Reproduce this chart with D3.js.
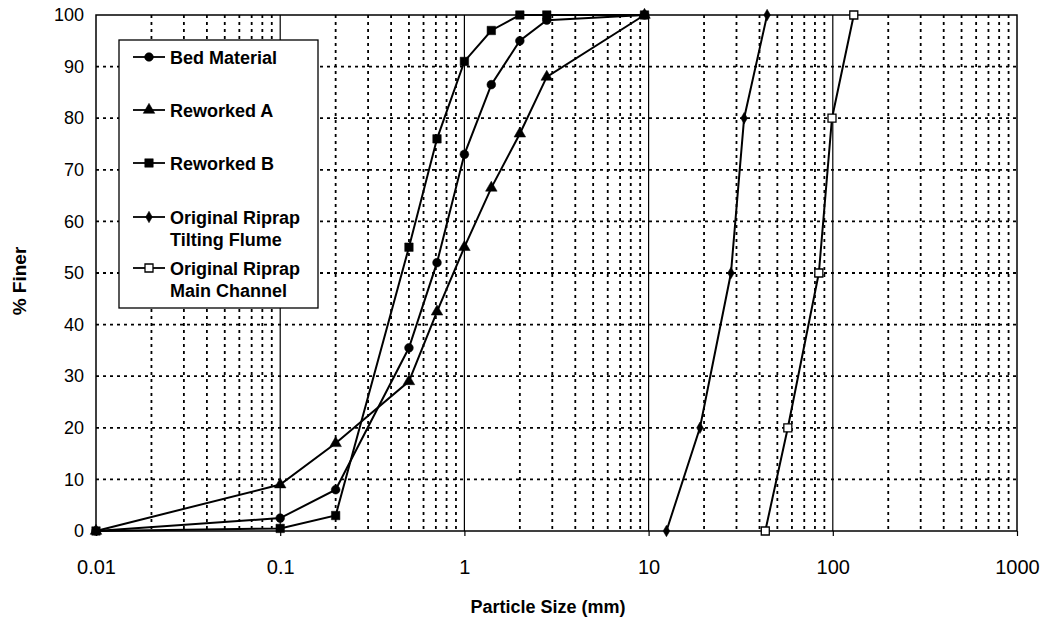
<!DOCTYPE html>
<html><head><meta charset="utf-8">
<script src="https://cdn.jsdelivr.net/npm/d3@7"></script>
<style>body{margin:0;background:#fff}svg{display:block}</style>
</head><body><svg id="c" width="1052" height="618"></svg>
<script>
// ---- data ----
const bedSize      = [0.01, 0.1, 0.2, 0.5, 0.71, 1.0, 1.4, 2.0, 2.8, 9.5];
const bedFiner     = [0, 2.5, 8, 35.5, 52, 73, 86.5, 95, 99, 100];
const reworkASize  = [0.01, 0.1, 0.2, 0.5, 0.71, 1.0, 1.4, 2.0, 2.8, 9.5];
const reworkAFiner = [0, 9, 17, 29, 42.5, 55, 66.5, 77, 88, 100];
const reworkBSize  = [0.01, 0.1, 0.2, 0.5, 0.71, 1.0, 1.4, 2.0, 2.8, 9.5];
const reworkBFiner = [0, 0.5, 3, 55, 76, 91, 97, 100, 100, 100];
const flumeSize    = [12.5, 19, 28, 33, 44];
const flumeFiner   = [0, 20, 50, 80, 100];
const channelSize  = [43, 57, 84, 99, 130];
const channelFiner = [0, 20, 50, 80, 100];
const seriesNames  = [["Bed Material"], ["Reworked A"], ["Reworked B"],
                      ["Original Riprap", "Tilting Flume"], ["Original Riprap", "Main Channel"]];
const xTickValues  = [0.01, 0.1, 1, 10, 100, 1000];
const xTickLabels  = ["0.01", "0.1", "1", "10", "100", "1000"];
const yTickValues  = [0, 10, 20, 30, 40, 50, 60, 70, 80, 90, 100];
const xTitle = "Particle Size (mm)";
const yTitle = "% Finer";

const series = [
  {names: seriesNames[0], size: bedSize, finer: bedFiner, sym: d3.symbolCircle, area: 60, open: false},
  {names: seriesNames[1], size: reworkASize, finer: reworkAFiner, sym: d3.symbolTriangle, area: 58, open: false},
  {names: seriesNames[2], size: reworkBSize, finer: reworkBFiner, sym: d3.symbolSquare, area: 72, open: false},
  {names: seriesNames[3], size: flumeSize, finer: flumeFiner, sym: d3.symbolDiamond, area: 38, open: false},
  {names: seriesNames[4], size: channelSize, finer: channelFiner, sym: d3.symbolSquare, area: 64, open: true}
];

const svg = d3.select("#c");
const FONT = "'Liberation Sans', Arial, sans-serif";
const x = d3.scaleLog().domain([0.01, 1000]).range([96, 1017]);
const y = d3.scaleLinear().domain([0, 100]).range([531, 15]);
const [x0, x1] = x.range(), [y0, y1] = y.range();

// grid
const g = svg.append("g");
const isDecade = v => Math.abs(Math.log10(v) - Math.round(Math.log10(v))) < 1e-9;
x.ticks().filter(v => v > 0.01 && v < 1000).forEach(v => {
  const dec = isDecade(v);
  g.append("line").attr("x1", x(v)).attr("x2", x(v)).attr("y1", y1).attr("y2", y0)
    .attr("stroke", "#000").attr("stroke-width", dec ? 1.2 : 1.8)
    .attr("stroke-dasharray", dec ? null : "3,4");
});
yTickValues.filter(v => v > 0 && v < 100).forEach(v => {
  g.append("line").attr("x1", x0).attr("x2", x1).attr("y1", y(v)).attr("y2", y(v))
    .attr("stroke", "#000").attr("stroke-width", 1.8).attr("stroke-dasharray", "3,4");
});
svg.append("rect").attr("x", x0).attr("y", y1).attr("width", x1 - x0).attr("height", y0 - y1)
  .attr("fill", "none").attr("stroke", "#000").attr("stroke-width", 1.5);

// axes
const xa = svg.append("g").attr("transform", `translate(0,${y0})`)
  .call(d3.axisBottom(x).tickValues(xTickValues).tickFormat((d, i) => xTickLabels[i]).tickSize(5).tickPadding(24));
xa.select(".domain").remove();
xa.selectAll("text").attr("font-family", FONT).attr("font-size", 20).attr("fill", "#000");
xa.selectAll("line").attr("stroke", "#000").attr("stroke-width", 1.2);

const ya = svg.append("g").attr("transform", `translate(${x0},0)`)
  .call(d3.axisLeft(y).tickValues(yTickValues).tickSize(0).tickPadding(12));
ya.select(".domain").remove();
ya.selectAll("text").attr("font-family", FONT).attr("font-size", 18).attr("fill", "#000");

svg.append("text").attr("x", 548).attr("y", 613).attr("text-anchor", "middle")
  .attr("font-family", FONT).attr("font-weight", "bold").attr("font-size", 18).text(xTitle);
svg.append("text").attr("transform", "translate(26,281) rotate(-90)").attr("text-anchor", "middle")
  .attr("font-family", FONT).attr("font-weight", "bold").attr("font-size", 19).text(yTitle);

// series
const line = d3.line().x(d => x(d[0])).y(d => y(d[1]));
function marker(sel, s) {
  sel.attr("d", d3.symbol().type(s.sym).size(s.area)())
    .attr("fill", s.open ? "#fff" : "#000").attr("stroke", "#000").attr("stroke-width", s.open ? 1.3 : 0.5);
}
series.forEach(s => {
  const pts = s.size.map((v, i) => [v, s.finer[i]]);
  svg.append("path").datum(pts).attr("d", line).attr("fill", "none")
    .attr("stroke", "#000").attr("stroke-width", 2);
  svg.append("g").selectAll("path").data(pts).join("path")
    .attr("transform", d => `translate(${x(d[0])},${y(d[1])})`).call(marker, s);
});

// legend
const lg = svg.append("g");
lg.append("rect").attr("x", 119).attr("y", 40).attr("width", 199).attr("height", 268)
  .attr("fill", "#fff").attr("stroke", "#000").attr("stroke-width", 1.3);
const legendY = [57, 110, 163, 217, 268];
series.forEach((s, i) => {
  const yy = legendY[i];
  lg.append("line").attr("x1", 133).attr("x2", 165).attr("y1", yy).attr("y2", yy)
    .attr("stroke", "#000").attr("stroke-width", 1.8);
  lg.append("path").attr("transform", `translate(149,${yy})`).call(marker, s);
  s.names.forEach((t, j) => {
    lg.append("text").attr("x", 170).attr("y", yy + 6.5 + j * 22)
      .attr("font-family", FONT).attr("font-weight", "bold").attr("font-size", 18).text(t);
  });
});
</script></body></html>
